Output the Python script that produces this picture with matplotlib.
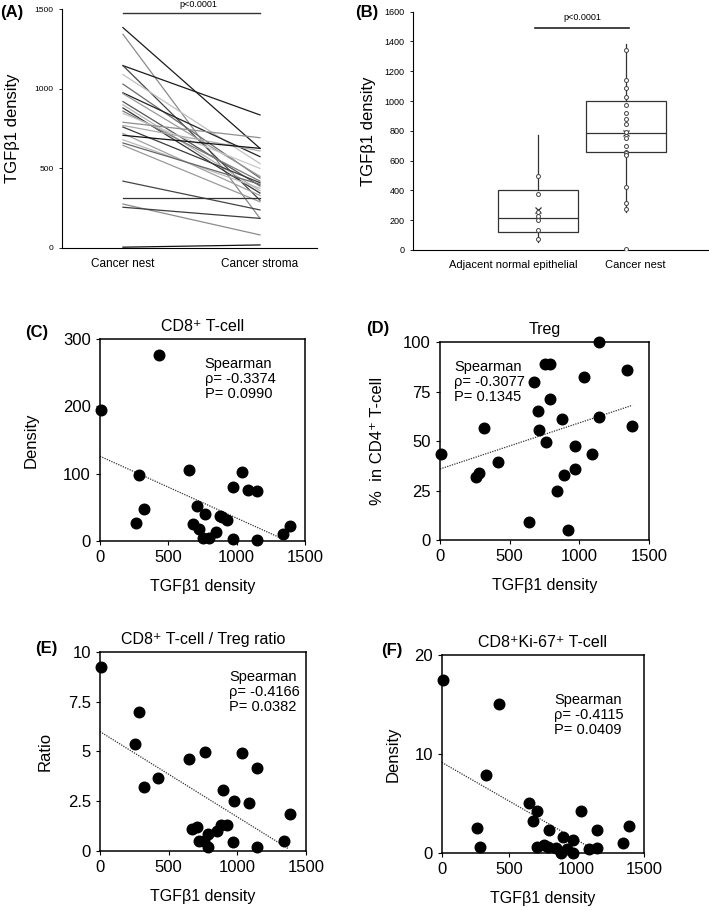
import matplotlib.pyplot as plt
import numpy as np

plt.rcParams['font.family'] = ['Liberation Sans', 'DejaVu Sans']

# ---- Data ----------------------------------------------------------------
# (A) paired TGFb1 density, cancer nest -> cancer stroma
nest = [1385, 1343, 1146, 1146, 1090, 1030, 975, 970, 920, 900, 880, 860, 845,
        790, 770, 760, 720, 708, 680, 660, 645, 420, 316, 276, 256, 5]
stroma = [626, 186, 836, 300, 530, 440, 574, 450, 390, 360, 345, 420, 500,
          693, 610, 410, 330, 626, 375, 400, 290, 239, 316, 82, 186, 19]
shades = ['#1a1a1a', '#8a8a8a', '#1a1a1a', '#444444', '#c0c0c0', '#6a6a6a',
          '#222222', '#9a9a9a', '#555555', '#b5b5b5', '#333333', '#7a7a7a',
          '#c8c8c8', '#8f8f8f', '#aaaaaa', '#3a3a3a', '#a0a0a0', '#111111',
          '#bbbbbb', '#666666', '#999999', '#444444', '#333333', '#8c8c8c',
          '#3c3c3c', '#111111']
a_categories = ['Cancer nest', 'Cancer stroma']

# (B) box plot summaries
b_categories = ['Adjacent normal epithelial', 'Cancer nest']
adj_points = [495, 375, 255, 225, 200, 135, 75]
nest_points = [1340, 1140, 1090, 1030, 970, 920, 880, 845, 790, 755, 700,
               660, 648, 640, 420, 315, 278, 5]
adj_stats = dict(q1=120, med=213, q3=405, whislo=55, whishi=775, mean=270)
nest_stats = dict(q1=655, med=785, q3=1000, whislo=255, whishi=1380, mean=785)

# (C)-(F) TGFb1 density vs. immune readouts
c_x = [10, 429, 288, 263, 324, 649, 678, 710, 722, 766, 756, 795, 849, 880,
       927, 890, 976, 976, 1037, 1085, 1146, 1146, 1341, 1390]
c_y = [195, 276, 98, 27, 48, 106, 26, 52, 18, 40, 5, 4, 14, 37,
       31, 36, 80, 3, 103, 76, 75, 1, 11, 22]
c_fit = (126, -0.0919, 1317)   # intercept, slope, x end

d_x = [5, 256, 280, 316, 419, 641, 672, 701, 713, 756, 790, 790, 758, 840,
       878, 892, 916, 969, 969, 1031, 1089, 1141, 1141, 1340, 1380]
d_y = [43.7, 32, 33.7, 56.5, 39.6, 8.9, 80, 65, 55.6, 89, 88.9, 71.3, 49.4,
       24.6, 61, 33, 5, 36, 47.7, 82.3, 43.7, 99.8, 62.4, 85.7, 57.5]
d_fit = (35.9, 0.0233, 1380)

e_x = [5, 282, 257, 318, 422, 646, 762, 1032, 1141, 898, 973, 1087, 1383,
       667, 704, 718, 757, 789, 784, 849, 879, 925, 971, 1141, 1337]
e_y = [9.26, 6.99, 5.39, 3.19, 3.66, 4.6, 4.99, 4.9, 4.15, 3.08, 2.49, 2.39,
       1.85, 1.09, 1.21, 0.5, 0.5, 0.86, 0.2, 1.0, 1.3, 1.3, 0.47, 0.18, 0.5]
e_fit = (6.0, -0.00429, 1371)

f_x = [7, 423, 324, 260, 282, 646, 708, 678, 1035, 792, 1149, 1386, 898, 975,
       1342, 708, 757, 787, 849, 886, 926, 975, 1092, 1153]
f_y = [17.5, 15.0, 7.9, 2.5, 0.57, 5.0, 4.2, 3.2, 4.2, 2.3, 2.3, 2.75, 1.6,
       1.3, 1.0, 0.57, 0.77, 0.6, 0.54, 0.03, 0.44, 0.03, 0.37, 0.54]
f_fit = (9.14, -0.00782, 1084)

fig = plt.figure(figsize=(7.09, 9.11), dpi=100)

# ---- (A) paired lines ----------------------------------------------------
axA = fig.add_axes([0.0874, 0.7278, 0.3597, 0.2620])
for n, s, c in zip(nest, stroma, shades):
    axA.plot([0, 1], [n, s], color=c, lw=0.9)
axA.set_xlim(-0.445, 1.416)
axA.set_ylim(0, 1500)
axA.set_yticks([0, 500, 1000, 1500])
axA.set_xticks([0, 1])
axA.set_xticklabels(a_categories, fontsize=8.5)
axA.tick_params(axis='x', length=0, pad=7)
axA.tick_params(axis='y', labelsize=6, length=2.5, width=0.6)
axA.set_ylabel('TGFβ1 density', fontsize=12)
axA.yaxis.set_label_coords(-0.165, 0.5)
for sp in ('top', 'right'):
    axA.spines[sp].set_visible(False)
for sp in ('left', 'bottom'):
    axA.spines[sp].set_linewidth(0.8)
axA.plot([0, 1], [1476, 1476], color='#333333', lw=1.0, clip_on=False)
axA.text(0.55, 1500, 'p<0.0001', ha='center', va='bottom', fontsize=6.5)

# ---- (B) box plot --------------------------------------------------------
axB = fig.add_axes([0.5825, 0.7256, 0.4161, 0.2616])
boxes = []
for st, lab in zip([adj_stats, nest_stats], b_categories):
    d = dict(st)
    d['label'] = lab
    d['fliers'] = []
    boxes.append(d)
axB.bxp(boxes, positions=[1, 2], widths=0.91, showmeans=True,
        showcaps=False, patch_artist=True,
        boxprops=dict(facecolor='white', edgecolor='#333333', lw=0.9),
        medianprops=dict(color='#333333', lw=0.9),
        whiskerprops=dict(color='#333333', lw=0.9),
        meanprops=dict(marker='x', markeredgecolor='#333333', markersize=4,
                       markeredgewidth=0.9))
for pos, pts in zip([1, 2], [adj_points, nest_points]):
    axB.scatter([pos] * len(pts), pts, s=8, facecolor='white',
                edgecolor='#444444', linewidth=0.7, zorder=3)
axB.set_xlim(-0.42, 2.93)
axB.set_ylim(0, 1600)
axB.set_yticks(np.arange(0, 1601, 200))
axB.set_xticks([0.72, 2.1])
axB.set_xticklabels(b_categories, fontsize=8)
axB.tick_params(axis='x', length=0, pad=7)
axB.tick_params(axis='y', labelsize=6.5, length=2.5, width=0.6)
axB.set_ylabel('TGFβ1 density', fontsize=12)
axB.yaxis.set_label_coords(-0.125, 0.5)
for sp in ('top', 'right'):
    axB.spines[sp].set_visible(False)
for sp in ('left', 'bottom'):
    axB.spines[sp].set_linewidth(0.8)
axB.plot([0.97, 2.03], [1490, 1490], color='#222222', lw=1.2, clip_on=False)
axB.text(1.5, 1530, 'p<0.0001', ha='center', va='bottom', fontsize=6.5)


# ---- (C)-(F) scatter panels ----------------------------------------------
def scatter_panel(rect, x, y, fit, ylim, yticks, yticklabels, title, ylabel,
                  rho, pval, txt_xy, ylab_x, tag, tag_xy):
    ax = fig.add_axes(rect)
    ax.scatter(x, y, s=58, color='black', zorder=3, clip_on=False)
    xs = np.array([0, fit[2]])
    ax.plot(xs, fit[0] + fit[1] * xs, color='#333333', lw=0.9,
            linestyle=(0, (1, 1)))
    ax.set_xlim(0, 1500)
    ax.set_ylim(*ylim)
    ax.set_xticks([0, 500, 1000, 1500])
    ax.set_yticks(yticks)
    ax.set_yticklabels(yticklabels)
    ax.tick_params(labelsize=12, length=3, width=0.8, direction='out')
    for sp in ax.spines.values():
        sp.set_linewidth(1.1)
    ax.set_title(title, fontsize=11.5, pad=6)
    ax.set_xlabel('TGFβ1 density', fontsize=11.5)
    ax.xaxis.set_label_coords(0.5, -0.19)
    ax.set_ylabel(ylabel, fontsize=12)
    ax.yaxis.set_label_coords(ylab_x, 0.5)
    ax.text(txt_xy[0], txt_xy[1], f'Spearman\nρ= {rho}\nP= {pval}',
            transform=ax.transAxes, ha='left', va='top', fontsize=10.5,
            linespacing=1.1)
    fig.text(tag_xy[0], tag_xy[1], tag, fontsize=12, fontweight='bold',
             ha='left', va='center')
    return ax


scatter_panel([0.1410, 0.4061, 0.2891, 0.2217], c_x, c_y, c_fit, (0, 300),
              [0, 100, 200, 300], ['0', '100', '200', '300'],
              'CD8⁺ T-cell', 'Density', '-0.3374', '0.0990', (0.51, 0.91),
              -0.30, '(C)', (25 / 709, 1 - 332 / 911))
scatter_panel([0.6206, 0.4072, 0.2948, 0.2173], d_x, d_y, d_fit, (0, 100),
              [0, 25, 50, 75, 100], ['0', '25', '50', '75', '100'],
              'Treg', '%  in CD4⁺ T-cell', '-0.3077', '0.1345', (0.067, 0.91),
              -0.263, '(D)', (366 / 709, 1 - 328 / 911))
scatter_panel([0.1410, 0.0659, 0.2906, 0.2184], e_x, e_y, e_fit, (0, 10),
              [0, 2.5, 5, 7.5, 10], ['0', '2.5', '5', '7.5', '10'],
              'CD8⁺ T-cell / Treg ratio', 'Ratio', '-0.4166', '0.0382',
              (0.626, 0.91), -0.228, '(E)', (35 / 709, 1 - 648 / 911))
scatter_panel([0.6234, 0.0637, 0.2849, 0.2173], f_x, f_y, f_fit, (0, 20),
              [0, 10, 20], ['0', '10', '20'],
              'CD8⁺Ki-67⁺ T-cell', 'Density', '-0.4115', '0.0409',
              (0.554, 0.81), -0.203, '(F)', (381 / 709, 1 - 650 / 911))

fig.text(0.0, 1 - 12 / 911, '(A)', fontsize=12, fontweight='bold',
         ha='left', va='center')
fig.text(355 / 709, 1 - 13 / 911, '(B)', fontsize=12, fontweight='bold',
         ha='left', va='center')

fig.savefig('out.png', dpi=100)
